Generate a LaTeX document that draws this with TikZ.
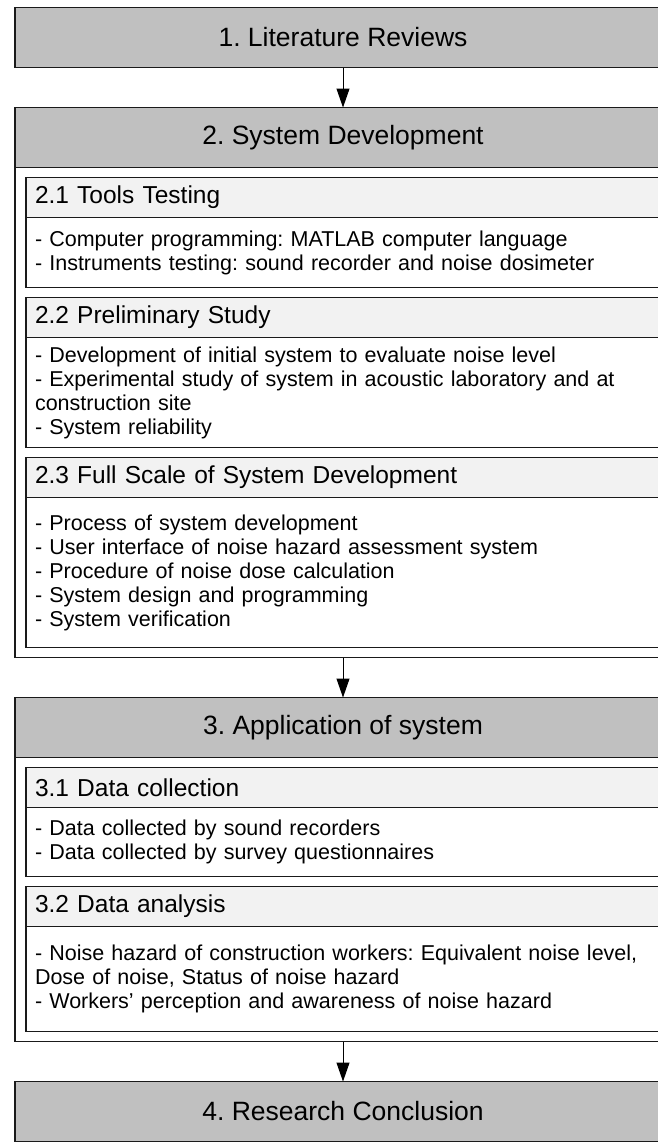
\documentclass[tikz,border=0pt]{standalone}
\usepackage{fontspec}
\setmainfont{Liberation Sans}
\usetikzlibrary{arrows.meta,positioning,fit}
\definecolor{StageGray}{HTML}{C0C0C0}
\definecolor{SubGray}{HTML}{F2F2F2}
\definecolor{Edge}{HTML}{1A1A1A}
\frenchspacing
\tikzset{stage/.style={rectangle,draw=Edge,line width=1.3pt,fill=StageGray,minimum width=656pt,minimum height=60pt,inner sep=0pt,outer sep=0pt,anchor=north west,font=\fontsize{26.5}{30}\selectfont},subhead/.style={rectangle,draw=Edge,line width=1.3pt,fill=SubGray,text width=616pt,inner xsep=9pt,inner ysep=0pt,outer sep=0pt,minimum height=40pt,align=left,anchor=north west,font=\fontsize{24.5}{28}\selectfont},detail/.style={rectangle,draw=Edge,line width=1.3pt,fill=white,text width=616pt,inner xsep=9pt,inner ysep=0pt,outer sep=0pt,align=left,anchor=north west,font=\fontsize{21.5}{24}\selectfont},frame/.style={rectangle,draw=Edge,line width=1.3pt,inner sep=0pt,outer sep=0pt},flow/.style={draw=black,line width=1pt,-{Triangle[length=19pt,width=13pt]}}}
\begin{document}
\begin{tikzpicture}[x=1pt,y=-1pt]
\useasboundingbox (0,0) rectangle (658,1143);\clip (0,0) rectangle (658,1143);
\fill[white] (0,0) rectangle (658,1143);
\node[stage] (D1) at (15,7.5) {1. Literature Reviews};
\node[stage,below right=40pt and 0pt of D1.south west] (D2) {2. System Development};
\node[subhead,below right=10pt and 11pt of D2.south west] (S21) {2.1 Tools Testing};\node[detail,minimum height=70pt] (S21b) at (S21.south west) {- Computer programming: MATLAB computer language\\- Instruments testing: sound recorder and noise dosimeter};
\node[subhead,below right=10pt and 0pt of S21b.south west] (S22) {2.2 Preliminary Study};\node[detail,minimum height=110pt] (S22b) at (S22.south west) {- Development of initial system to evaluate noise level\\- Experimental study of system in acoustic laboratory and at\\construction site\\- System reliability};
\node[subhead,below right=10pt and 0pt of S22b.south west] (S23) {2.3 Full Scale of System Development};\node[detail,minimum height=150pt] (S23b) at (S23.south west) {- Process of system development\\- User interface of noise hazard assessment system\\- Procedure of noise dose calculation\\- System design and programming\\- System verification};
\coordinate (F2) at ([yshift=-10pt]S23b.south);\node[frame,fit=(D2)(F2)] (B2) {};
\node[stage,below right=40pt and 0pt of B2.south west] (D3) {3. Application of system};
\node[subhead,below right=10pt and 11pt of D3.south west] (S31) {3.1 Data collection};\node[detail,minimum height=69pt] (S31b) at (S31.south west) {- Data collected by sound recorders\\- Data collected by survey questionnaires};
\node[subhead,below right=10pt and 0pt of S31b.south west] (S32) {3.2 Data analysis};\node[detail,minimum height=105pt] (S32b) at (S32.south west) {- Noise hazard of construction workers: Equivalent noise level,\\Dose of noise, Status of noise hazard\\- Workers’ perception and awareness of noise hazard};
\coordinate (F3) at ([yshift=-10pt]S32b.south);\node[frame,fit=(D3)(F3)] (B3) {};
\node[stage,below right=40pt and 0pt of B3.south west] (D4) {4. Research Conclusion};
\draw[flow] (D1) -- (D2);\draw[flow] (B2) -- (D3);\draw[flow] (B3) -- (D4);
\end{tikzpicture}
\end{document}
